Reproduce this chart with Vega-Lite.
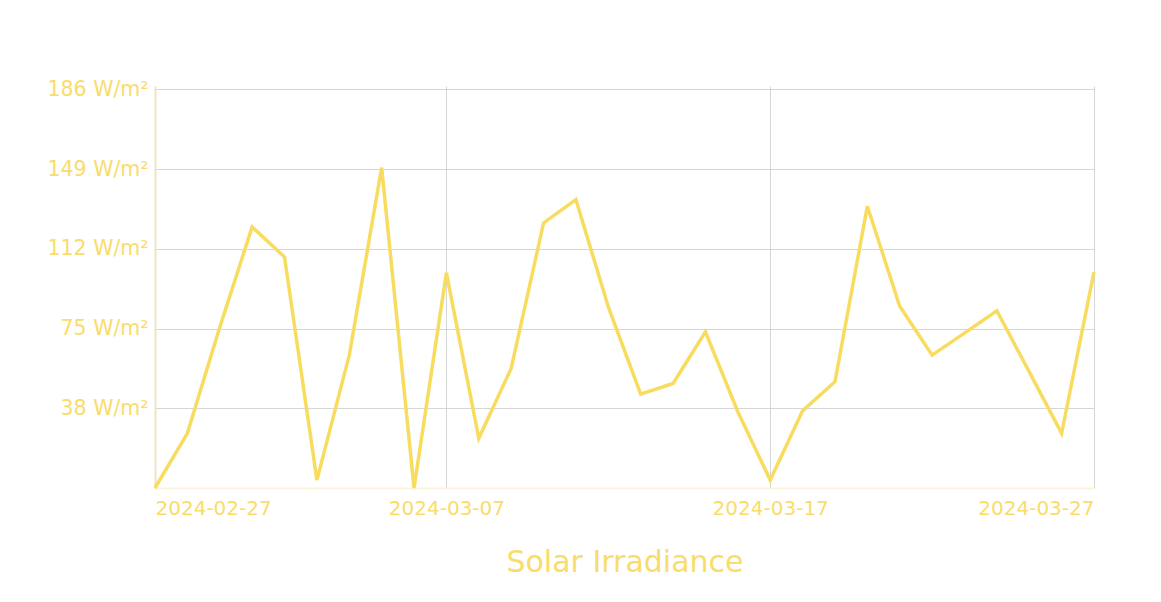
{
  "$schema": "https://vega.github.io/schema/vega-lite/v6.json",
  "autosize": {"type": "none"},
  "padding": {"left": 155, "top": 86, "right": 67, "bottom": 114},
  "width": 939,
  "height": 402,
  "background": "#ffffff",
  "config": {"view": {"stroke": null}, "font": "DejaVu Sans"},
  "data": {"values": [
    {"date": "2024-02-27", "irradiance": 0},
    {"date": "2024-02-28", "irradiance": 25.5},
    {"date": "2024-02-29", "irradiance": 75},
    {"date": "2024-03-01", "irradiance": 121.8},
    {"date": "2024-03-02", "irradiance": 107.8},
    {"date": "2024-03-03", "irradiance": 3.7},
    {"date": "2024-03-04", "irradiance": 62},
    {"date": "2024-03-05", "irradiance": 149.5},
    {"date": "2024-03-06", "irradiance": 0},
    {"date": "2024-03-07", "irradiance": 100.4},
    {"date": "2024-03-08", "irradiance": 23.2},
    {"date": "2024-03-09", "irradiance": 55.8},
    {"date": "2024-03-10", "irradiance": 123.7},
    {"date": "2024-03-11", "irradiance": 134.6},
    {"date": "2024-03-12", "irradiance": 84.5},
    {"date": "2024-03-13", "irradiance": 43.8},
    {"date": "2024-03-14", "irradiance": 48.8},
    {"date": "2024-03-15", "irradiance": 72.9},
    {"date": "2024-03-16", "irradiance": 35.6},
    {"date": "2024-03-17", "irradiance": 3.7},
    {"date": "2024-03-18", "irradiance": 36},
    {"date": "2024-03-19", "irradiance": 49.6},
    {"date": "2024-03-20", "irradiance": 131.5},
    {"date": "2024-03-21", "irradiance": 84.8},
    {"date": "2024-03-22", "irradiance": 62},
    {"date": "2024-03-23", "irradiance": 72.3},
    {"date": "2024-03-24", "irradiance": 82.7},
    {"date": "2024-03-25", "irradiance": 54.2},
    {"date": "2024-03-26", "irradiance": 25.5},
    {"date": "2024-03-27", "irradiance": 100.8}
  ]},
  "mark": {"type": "line", "color": "#f8dc5f", "strokeWidth": 3.5, "strokeJoin": "miter", "clip": false},
  "encoding": {
    "x": {
      "field": "date",
      "type": "temporal",
      "scale": {"type": "utc", "nice": false},
      "axis": {
        "title": "Solar Irradiance",
        "titleFont": "DejaVu Sans",
        "titleFontSize": 30,
        "titleFontWeight": "normal",
        "titleColor": "#f9dc6a",
        "titlePadding": 29,
        "values": [
          {"year": 2024, "month": 2, "date": 27, "utc": true},
          {"year": 2024, "month": 3, "date": 7, "utc": true},
          {"year": 2024, "month": 3, "date": 17, "utc": true},
          {"year": 2024, "month": 3, "date": 27, "utc": true}
        ],
        "labelExpr": "utcFormat(datum.value, '%Y-%m-%d')",
        "labelFont": "DejaVu Sans",
        "labelFontSize": 20,
        "labelColor": "#f9dc6a",
        "labelFlush": true,
        "labelPadding": 10,
        "ticks": false,
        "grid": true,
        "gridColor": "#d6d6d6",
        "gridWidth": 1,
        "domainColor": "#fbf4da",
        "domainWidth": 2
      }
    },
    "y": {
      "field": "irradiance",
      "type": "quantitative",
      "scale": {"domain": [0, 187.6], "nice": false, "zero": true},
      "axis": {
        "title": null,
        "values": [37.2, 74.4, 111.6, 148.8, 186],
        "labelExpr": "ceil(datum.value) + ' W/m²'",
        "labelFont": "DejaVu Sans",
        "labelFontSize": 20.5,
        "labelColor": "#f9dc6a",
        "labelPadding": 7,
        "ticks": false,
        "grid": true,
        "gridColor": "#d6d6d6",
        "gridWidth": 1,
        "domainColor": "#ece5c6",
        "domainWidth": 2
      }
    }
  }
}
